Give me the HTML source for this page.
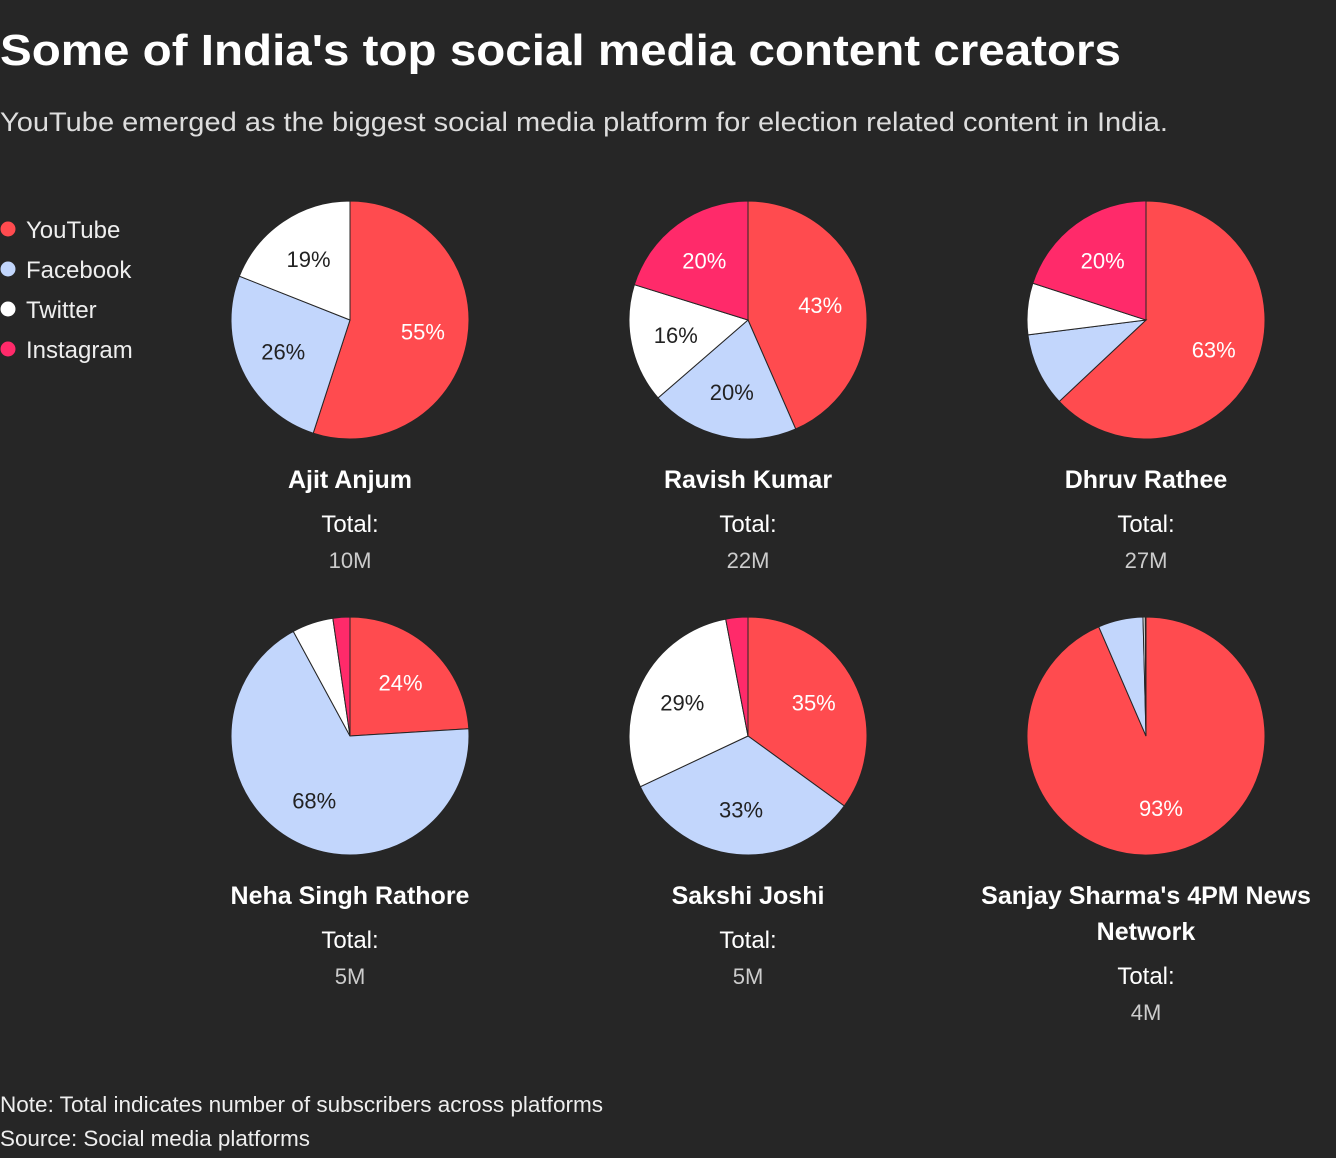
<!DOCTYPE html>
<html><head><meta charset="utf-8"><style>
body{margin:0;background:#262626;width:1336px;height:1158px;overflow:hidden;font-family:"Liberation Sans",sans-serif;color:#fff}
</style></head><body>
<svg id="chart" width="1336" height="1158" style="position:absolute;left:0;top:0">
<text x="0" y="65" font-size="44" font-weight="bold" fill="#fff" textLength="1121" lengthAdjust="spacingAndGlyphs">Some of India's top social media content creators</text>
<text x="0" y="131" font-size="27" fill="#ddd" textLength="1168" lengthAdjust="spacingAndGlyphs">YouTube emerged as the biggest social media platform for election related content in India.</text>
<g id="legend"></g>
<g id="pies"></g>
<text x="0" y="1112" font-size="22" fill="#eee" textLength="603" lengthAdjust="spacingAndGlyphs">Note: Total indicates number of subscribers across platforms</text>
<text x="0" y="1146" font-size="22" fill="#eee" textLength="310" lengthAdjust="spacingAndGlyphs">Source: Social media platforms</text>
</svg>
<script>
const platforms=["YouTube","Facebook","Twitter","Instagram"];
const colors=["#ff4b4f","#c2d6fc","#ffffff","#ff2a6a"];
const creators=["Ajit Anjum","Ravish Kumar","Dhruv Rathee","Neha Singh Rathore","Sakshi Joshi","Sanjay Sharma's 4PM News Network"];
const totals=["10M","22M","27M","5M","5M","4M"];
const youtube=[55,43,63,24,35,93.5];
const facebook=[26,20,10,68,33,6.1];
const twitter=[19,16,7,5.6,29,0.3];
const instagram=[0,20,20,2.3,3,0.1];
const labelsShown=[[55,26,19,0],[43,20,16,20],[63,0,0,20],[24,68,0,0],[35,33,29,0],[93,0,0,0]];
const NS="http://www.w3.org/2000/svg";
function mk(tag,attrs,parent){const e=document.createElementNS(NS,tag);for(const k in attrs)e.setAttribute(k,attrs[k]);parent.appendChild(e);return e;}
const leg=document.getElementById('legend');
platforms.forEach((p,i)=>{
  const c=mk('circle',{cx:8,cy:229+i*40,r:7.5,fill:colors[i]},leg);
  
  
  const t=mk('text',{x:26,y:238+i*40,'font-size':24,fill:'#eee'},leg);
  t.textContent=p;
  
  
});
const pies=document.getElementById('pies');
const cxs=[350,748,1146],cys=[320,736],R=119;
function pt(cx,cy,r,frac){const a=frac*2*Math.PI;return [cx+r*Math.sin(a),cy-r*Math.cos(a)];}
creators.forEach((name,k)=>{
  const cx=cxs[k%3],cy=cys[Math.floor(k/3)];
  const g=mk('g',{},pies);
  
  
  const vals=[youtube[k],facebook[k],twitter[k],instagram[k]];
  const sum=vals.reduce((a,b)=>a+b,0);
  let acc=0;
  vals.forEach((v,i)=>{
    if(v<=0)return;
    const f0=acc/sum,f1=(acc+v)/sum;acc+=v;
    const [x0,y0]=pt(cx,cy,R,f0),[x1,y1]=pt(cx,cy,R,f1);
    const large=(f1-f0)>0.5?1:0;
    const p=mk('path',{d:`M${cx},${cy}L${x0},${y0}A${R},${R} 0 ${large} 1 ${x1},${y1}Z`,fill:colors[i],stroke:'#262626','stroke-width':1},g);
    
    
    const lbl=labelsShown[k][i];
    if(lbl>0){
      const [lx,ly]=pt(cx,cy,R*0.62,(f0+f1)/2);
      const t=mk('text',{x:lx,y:ly+8,'text-anchor':'middle','font-size':22,fill:(i===0||i===3)?'#fff':'#222'},g);
      t.textContent=lbl+'%';
      
      
    }
  });
  let y=cy+168;
  const lines=name.length>25?["Sanjay Sharma's 4PM News","Network"]:[name];
  lines.forEach(l=>{
    const t=mk('text',{x:cx,y:y,'text-anchor':'middle','font-size':25,'font-weight':'bold',fill:'#fff'},g);
    t.textContent=l;
    
    
    y+=36;
  });
  y+=8;
  const t1=mk('text',{x:cx,y:y,'text-anchor':'middle','font-size':24,fill:'#fff'},g);
  t1.textContent='Total:';
  
  
  const t2=mk('text',{x:cx,y:y+36,'text-anchor':'middle','font-size':22,fill:'#ccc'},g);
  t2.textContent=totals[k];
  
  
});
</script>
</body></html>
